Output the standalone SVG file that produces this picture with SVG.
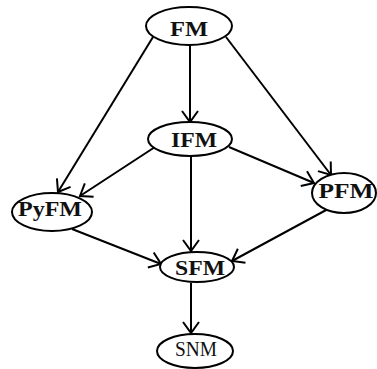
<svg xmlns="http://www.w3.org/2000/svg" width="377" height="369" viewBox="0 0 377 369">
<defs>
<marker id="arr" markerUnits="userSpaceOnUse" markerWidth="30" markerHeight="30" refX="0" refY="0" viewBox="-15 -15 30 30" orient="auto" overflow="visible">
<path d="M -11 -8 L 0 0 L -11 8" fill="none" stroke="#000" stroke-width="2"/>
</marker>
<style>
.n ellipse { fill: #fff; stroke: #000; stroke-width: 2; }
.n text { font-family: "Liberation Serif", "Times New Roman", serif; font-weight: bold; font-size: 21px; fill: #111; text-anchor: middle; }
.n text.r { font-weight: normal; font-size: 20px; }
.e line { stroke: #000; stroke-width: 2; marker-end: url(#arr); }
</style>
</defs>
<rect width="377" height="369" fill="#fff"/>
<g class="e" id="connectors">
<line x1="190" y1="44" x2="190" y2="122"/>
<line x1="153" y1="37" x2="58" y2="192"/>
<line x1="226" y1="37" x2="331" y2="175"/>
<line x1="155" y1="147" x2="80" y2="196"/>
<line x1="229" y1="147" x2="314" y2="183"/>
<line x1="191" y1="156" x2="191" y2="251"/>
<line x1="72" y1="229" x2="161" y2="264"/>
<line x1="328" y1="209" x2="232" y2="261"/>
<line x1="191" y1="283" x2="191" y2="333"/>
</g>
<g class="n" id="FM"><ellipse cx="189" cy="26" rx="43" ry="19"/><text x="189" y="36" textLength="38" lengthAdjust="spacingAndGlyphs">FM</text></g>
<g class="n" id="IFM"><ellipse cx="190" cy="139" rx="42" ry="17"/><text x="194" y="147" textLength="46" lengthAdjust="spacingAndGlyphs">IFM</text></g>
<g class="n" id="PyFM"><ellipse cx="52" cy="212" rx="40" ry="19"/><text x="50" y="216" textLength="64" lengthAdjust="spacingAndGlyphs">PyFM</text></g>
<g class="n" id="PFM"><ellipse cx="344" cy="193" rx="32" ry="20"/><text x="346" y="198" textLength="55" lengthAdjust="spacingAndGlyphs">PFM</text></g>
<g class="n" id="SFM"><ellipse cx="197" cy="267" rx="37" ry="15"/><text x="200" y="275" textLength="50" lengthAdjust="spacingAndGlyphs">SFM</text></g>
<g class="n" id="SNM"><ellipse cx="195" cy="351" rx="38" ry="17"/><text class="r" x="196" y="356" textLength="42" lengthAdjust="spacingAndGlyphs">SNM</text></g>
</svg>
